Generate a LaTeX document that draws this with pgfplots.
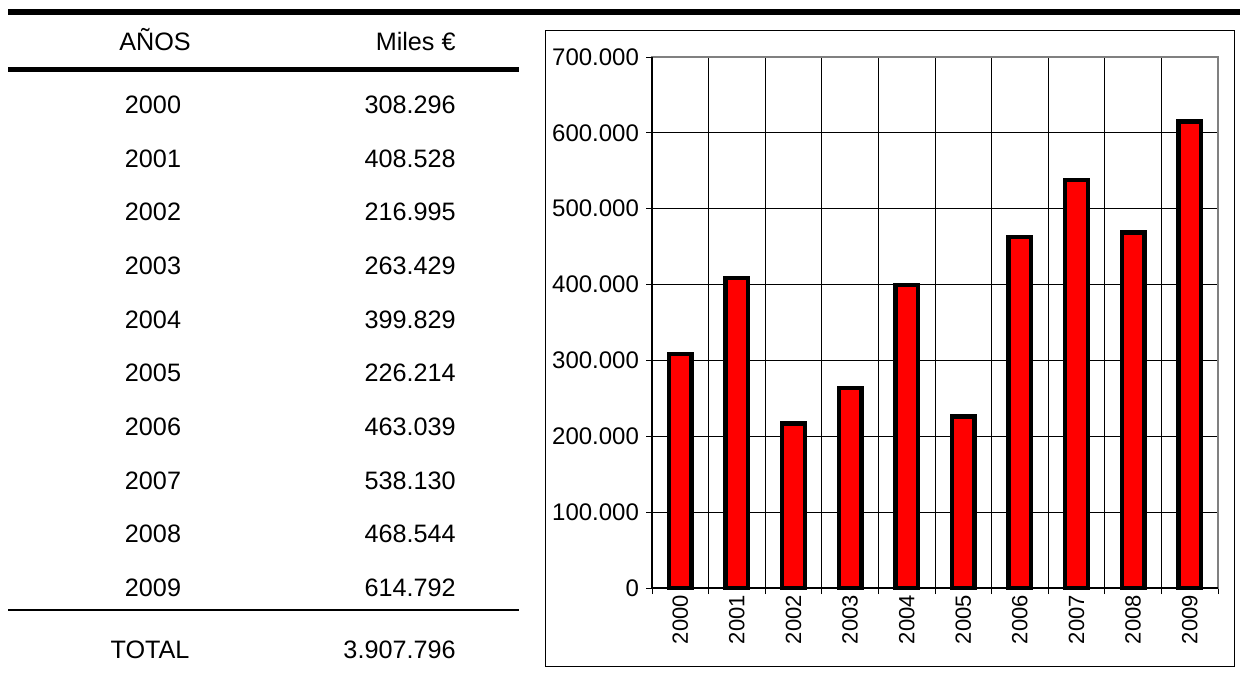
\documentclass[border=0pt]{standalone}
\usepackage{fontspec}
\setmainfont{Liberation Sans}
\usepackage{pgfplots}
\usepackage{pgfplotstable}
\pgfplotsset{compat=1.18}

\pgfplotstableread{
x year value
0 2000 308296
1 2001 408528
2 2002 216995
3 2003 263429
4 2004 399829
5 2005 226214
6 2006 463039
7 2007 538130
8 2008 468544
9 2009 614792
}\datatable

\begin{document}
\begin{tikzpicture}
\path[use as bounding box] (0,0) rectangle (620pt,338.5pt);
% table, in pixel coordinates (y downwards)
\begin{scope}[x=0.5pt,y=-0.5pt,shift={(0,338.5pt)},every node/.style={font=\fontsize{12.6}{14}\selectfont,inner sep=0pt}]
  \draw[line width=3pt] (8,12)--(1240,12);
  \draw[line width=2.5pt] (8,69)--(519,69);
  \draw[line width=1.1pt] (8,610)--(519,610);
  \node[anchor=base] at (155,50.5) {AÑOS};
  \node[anchor=base east] at (456,50.5) {Miles €};
  \foreach \yr/\val [count=\i from 0] in {2000/308.296,2001/408.528,2002/216.995,2003/263.429,2004/399.829,2005/226.214,2006/463.039,2007/538.130,2008/468.544,2009/614.792}{
    \node[anchor=base] at (153,113.5+53.67*\i) {\yr};
    \node[anchor=base east] at (456,113.5+53.67*\i) {\val};
  }
  \node[anchor=base] at (150,658.5) {TOTAL};
  \node[anchor=base east] at (456,658.5) {3.907.796};
  \draw[line width=0.5pt] (545,30) rectangle (1234,666);
\end{scope}

\begin{axis}[
  at={(326pt,44.5pt)}, anchor=south west,
  scale only axis, width=283pt, height=265.5pt,
  xmin=-0.5, xmax=9.5, ymin=0, ymax=700000,
  ytick={0,100000,...,700000},
  xtick={-0.5,0.5,...,9.5}, xticklabels={},
  ytick pos=left, xtick pos=bottom,
  extra x ticks={0,1,2,3,4,5,6,7,8,9},
  extra x tick labels={2000,2001,2002,2003,2004,2005,2006,2007,2008,2009},
  extra x tick style={major tick length=0pt, grid=none,
    tick label style={rotate=90, anchor=east, font=\fontsize{11}{13}\selectfont}},
  xmajorgrids, ymajorgrids,
  grid style={black, line width=0.5pt},
  tick align=outside, major tick length=3pt,
  tick style={black, line width=0.5pt},
  axis line style={gray, line width=1pt},
  scaled y ticks=false,
  yticklabel style={font=\fontsize{12}{14}\selectfont,
    /pgf/number format/.cd, fixed, 1000 sep={.}, assume math mode=true},
  clip=false,
]
\addplot[ybar, bar width=11.25pt, fill=red, draw=black, line width=2.2pt]
  table[x=x, y=value] {\datatable};
\draw[black, line width=0.6pt] (rel axis cs:0,1)--(rel axis cs:0,0)--(rel axis cs:1,0);
\end{axis}
\end{tikzpicture}
\end{document}
